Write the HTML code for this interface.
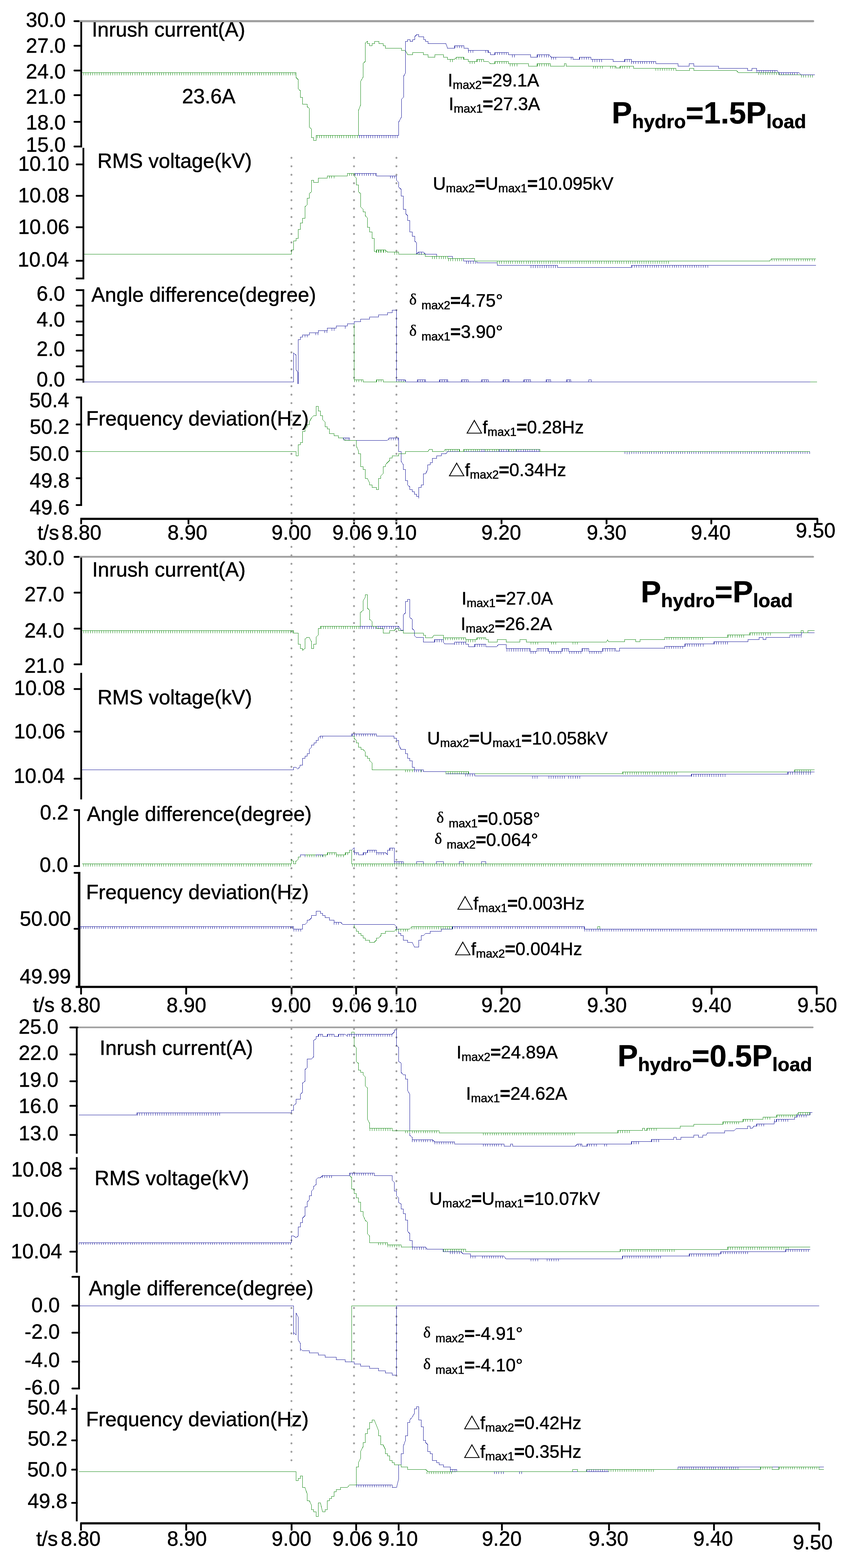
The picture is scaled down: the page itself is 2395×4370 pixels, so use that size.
<!DOCTYPE html>
<html><head><meta charset="utf-8"><title>Inrush current comparison</title>
<style>html,body{margin:0;padding:0;background:#fff;}svg{display:block;}</style></head>
<body>
<svg xmlns="http://www.w3.org/2000/svg" width="2395" height="4370" viewBox="0 0 2395 4370">
<rect width="2395" height="4370" fill="#fff"/>
<g font-family="Liberation Sans, Arial, sans-serif" fill="#000" stroke="#000" stroke-width="0.7">
<text x='72.3' y='75.1' font-size='57'>30.0</text>
<text x='72.3' y='147.2' font-size='57'>27.0</text>
<text x='72.3' y='219.0' font-size='57'>24.0</text>
<text x='72.3' y='289.0' font-size='57'>21.0</text>
<text x='72.3' y='360.8' font-size='57'>18.0</text>
<text x='72.3' y='422.9' font-size='57'>15.0</text>
<text x='50.5' y='476.0' font-size='57'>10.10</text>
<text x='50.5' y='564.2' font-size='57'>10.08</text>
<text x='50.5' y='652.2' font-size='57'>10.06</text>
<text x='49.5' y='743.0' font-size='57'>10.04</text>
<text x='102.0' y='838.2' font-size='57'>6.0</text>
<text x='102.0' y='910.0' font-size='57'>4.0</text>
<text x='102.0' y='992.2' font-size='57'>2.0</text>
<text x='102.0' y='1077.1' font-size='57'>0.0</text>
<text x='81.8' y='1135.2' font-size='57'>50.4</text>
<text x='82.8' y='1209.3' font-size='57'>50.2</text>
<text x='81.8' y='1284.3' font-size='57'>50.0</text>
<text x='82.8' y='1359.3' font-size='57'>49.8</text>
<text x='82.8' y='1434.2' font-size='57'>49.6</text>
<text x='104.5' y='1503.5' font-size='57'>t/s</text>
<text x='171.8' y='1504.0' font-size='57'>8.80</text>
<text x='466.9' y='1504.0' font-size='57'>8.90</text>
<text x='757.0' y='1504.0' font-size='57'>9.00</text>
<text x='926.5' y='1504.0' font-size='57'>9.06</text>
<text x='1051.1' y='1504.0' font-size='57'>9.10</text>
<text x='1342.0' y='1504.0' font-size='57'>9.20</text>
<text x='1635.7' y='1504.0' font-size='57'>9.30</text>
<text x='1926.2' y='1504.0' font-size='57'>9.40</text>
<text x='2218.4' y='1498.3' font-size='57'>9.50</text>
<text x='256.0' y='101.5' font-size='57'>Inrush current(A)</text>
<text x='507.5' y='288.0' font-size='57'>23.6A</text>
<text x='1248.6' y='241.2' font-size='50'>I<tspan font-size='33' dy='7'>max2</tspan><tspan dy='-7'><tspan font-weight='bold'>=</tspan>29.1A</tspan></text>
<text x='1251.2' y='307.2' font-size='50'>I<tspan font-size='33' dy='7'>max1</tspan><tspan dy='-7'><tspan font-weight='bold'>=</tspan>27.3A</tspan></text>
<text x='1705.6' y='344.1' font-size='85' font-weight='bold'>P<tspan font-size='54' dy='13'>hydro</tspan><tspan dy='-13'>=1.5P</tspan><tspan font-size='54' dy='13'>load</tspan></text>
<text x='271.5' y='467.7' font-size='57'>RMS voltage(kV)</text>
<text x='1207.1' y='529.0' font-size='50'>U<tspan font-size='33' dy='7'>max2</tspan><tspan dy='-7'><tspan font-weight='bold'>=</tspan>U</tspan><tspan font-size='33' dy='7'>max1</tspan><tspan dy='-7'><tspan font-weight='bold'>=</tspan>10.095kV</tspan></text>
<text x='254.8' y='841.3' font-size='57'>Angle difference(degree)</text>
<text x='1141.0' y='855.4' font-size='50'><tspan font-family='Liberation Serif' font-size='44' dy='-6'>δ</tspan><tspan font-size='33' dy='13' dx='4'> max2</tspan><tspan dy='-7'><tspan font-weight='bold'>=</tspan>4.75°</tspan></text>
<text x='1141.0' y='942.0' font-size='50'><tspan font-family='Liberation Serif' font-size='44' dy='-6'>δ</tspan><tspan font-size='33' dy='13' dx='4'> max1</tspan><tspan dy='-7'><tspan font-weight='bold'>=</tspan>3.90°</tspan></text>
<text x='240.0' y='1185.5' font-size='57'>Frequency deviation(Hz)</text>
<text x='1299.4' y='1207.8' font-size='50'><tspan font-family='Noto Sans CJK SC' font-size='46'>△</tspan>f<tspan font-size='33' dy='7'>max1</tspan><tspan dy='-7'><tspan font-weight='bold'>=</tspan>0.28Hz</tspan></text>
<text x='1250.2' y='1327.3' font-size='50'><tspan font-family='Noto Sans CJK SC' font-size='46'>△</tspan>f<tspan font-size='33' dy='7'>max2</tspan><tspan dy='-7'><tspan font-weight='bold'>=</tspan>0.34Hz</tspan></text>
<text x='68.2' y='1574.6' font-size='57'>30.0</text>
<text x='68.2' y='1676.2' font-size='57'>27.0</text>
<text x='68.2' y='1777.4' font-size='57'>24.0</text>
<text x='68.2' y='1875.3' font-size='57'>21.0</text>
<text x='39.0' y='1937.2' font-size='57'>10.08</text>
<text x='39.0' y='2058.0' font-size='57'>10.06</text>
<text x='38.0' y='2182.1' font-size='57'>10.04</text>
<text x='111.4' y='2284.2' font-size='57'>0.2</text>
<text x='110.4' y='2430.4' font-size='57'>0.0</text>
<text x='55.0' y='2580.4' font-size='57'>50.00</text>
<text x='55.0' y='2741.0' font-size='57'>49.99</text>
<text x='92.0' y='2819.6' font-size='57'>t/s</text>
<text x='169.0' y='2820.9' font-size='57'>8.80</text>
<text x='464.2' y='2820.9' font-size='57'>8.90</text>
<text x='756.0' y='2820.9' font-size='57'>9.00</text>
<text x='925.4' y='2820.9' font-size='57'>9.06</text>
<text x='1051.6' y='2820.9' font-size='57'>9.10</text>
<text x='1342.1' y='2820.9' font-size='57'>9.20</text>
<text x='1636.8' y='2820.9' font-size='57'>9.30</text>
<text x='1928.4' y='2820.9' font-size='57'>9.40</text>
<text x='2223.0' y='2820.9' font-size='57'>9.50</text>
<text x='257.0' y='1607.1' font-size='57'>Inrush current(A)</text>
<text x='1287.1' y='1684.7' font-size='50'>I<tspan font-size='33' dy='7'>max1</tspan><tspan dy='-7'><tspan font-weight='bold'>=</tspan>27.0A</tspan></text>
<text x='1284.6' y='1755.7' font-size='50'>I<tspan font-size='33' dy='7'>max2</tspan><tspan dy='-7'><tspan font-weight='bold'>=</tspan>26.2A</tspan></text>
<text x='1786.4' y='1678.7' font-size='85' font-weight='bold'>P<tspan font-size='54' dy='13'>hydro</tspan><tspan dy='-13'>=P</tspan><tspan font-size='54' dy='13'>load</tspan></text>
<text x='271.9' y='1963.1' font-size='57'>RMS voltage(kV)</text>
<text x='1191.0' y='2075.1' font-size='50'>U<tspan font-size='33' dy='7'>max2</tspan><tspan dy='-7'><tspan font-weight='bold'>=</tspan>U</tspan><tspan font-size='33' dy='7'>max1</tspan><tspan dy='-7'><tspan font-weight='bold'>=</tspan>10.058kV</tspan></text>
<text x='242.5' y='2288.2' font-size='57'>Angle difference(degree)</text>
<text x='1217.0' y='2298.7' font-size='50'><tspan font-family='Liberation Serif' font-size='44' dy='-6'>δ</tspan><tspan font-size='33' dy='13' dx='4'> max1</tspan><tspan dy='-7'><tspan font-weight='bold'>=</tspan>0.058°</tspan></text>
<text x='1211.6' y='2357.7' font-size='50'><tspan font-family='Liberation Serif' font-size='44' dy='-6'>δ</tspan><tspan font-size='33' dy='13' dx='4'> max2</tspan><tspan dy='-7'><tspan font-weight='bold'>=</tspan>0.064°</tspan></text>
<text x='240.0' y='2506.4' font-size='57'>Frequency deviation(Hz)</text>
<text x='1273.8' y='2535.4' font-size='50'><tspan font-family='Noto Sans CJK SC' font-size='46'>△</tspan>f<tspan font-size='33' dy='7'>max1</tspan><tspan dy='-7'><tspan font-weight='bold'>=</tspan>0.003Hz</tspan></text>
<text x='1267.2' y='2661.5' font-size='50'><tspan font-family='Noto Sans CJK SC' font-size='46'>△</tspan>f<tspan font-size='33' dy='7'>max2</tspan><tspan dy='-7'><tspan font-weight='bold'>=</tspan>0.004Hz</tspan></text>
<text x='52.0' y='2881.3' font-size='57'>25.0</text>
<text x='52.0' y='2954.4' font-size='57'>22.0</text>
<text x='52.0' y='3029.2' font-size='57'>19.0</text>
<text x='52.0' y='3102.3' font-size='57'>16.0</text>
<text x='52.0' y='3178.2' font-size='57'>13.0</text>
<text x='31.3' y='3279.3' font-size='57'>10.08</text>
<text x='31.3' y='3391.0' font-size='57'>10.06</text>
<text x='30.3' y='3506.6' font-size='57'>10.04</text>
<text x='87.5' y='3657.3' font-size='57'>0.0</text>
<text x='68.5' y='3731.1' font-size='57'>-2.0</text>
<text x='68.5' y='3810.3' font-size='57'>-4.0</text>
<text x='68.5' y='3885.5' font-size='57'>-6.0</text>
<text x='75.9' y='3941.6' font-size='57'>50.4</text>
<text x='76.9' y='4029.4' font-size='57'>50.2</text>
<text x='75.9' y='4115.4' font-size='57'>50.0</text>
<text x='76.9' y='4203.0' font-size='57'>49.8</text>
<text x='101.0' y='4307.5' font-size='57'>t/s</text>
<text x='169.4' y='4308.2' font-size='57'>8.80</text>
<text x='465.8' y='4308.2' font-size='57'>8.90</text>
<text x='757.2' y='4308.2' font-size='57'>9.00</text>
<text x='927.0' y='4308.2' font-size='57'>9.06</text>
<text x='1054.3' y='4308.2' font-size='57'>9.10</text>
<text x='1343.4' y='4308.2' font-size='57'>9.20</text>
<text x='1641.0' y='4308.2' font-size='57'>9.30</text>
<text x='1932.8' y='4308.2' font-size='57'>9.40</text>
<text x='2210.4' y='4317.6' font-size='57'>9.50</text>
<text x='277.8' y='2939.7' font-size='57'>Inrush current(A)</text>
<text x='1272.8' y='2950.4' font-size='50'>I<tspan font-size='33' dy='7'>max2</tspan><tspan dy='-7'><tspan font-weight='bold'>=</tspan>24.89A</tspan></text>
<text x='1299.2' y='3064.8' font-size='50'>I<tspan font-size='33' dy='7'>max1</tspan><tspan dy='-7'><tspan font-weight='bold'>=</tspan>24.62A</tspan></text>
<text x='1722.1' y='2972.0' font-size='85' font-weight='bold'>P<tspan font-size='54' dy='13'>hydro</tspan><tspan dy='-13'>=0.5P</tspan><tspan font-size='54' dy='13'>load</tspan></text>
<text x='263.6' y='3302.8' font-size='57'>RMS voltage(kV)</text>
<text x='1197.1' y='3357.5' font-size='50'>U<tspan font-size='33' dy='7'>max2</tspan><tspan dy='-7'><tspan font-weight='bold'>=</tspan>U</tspan><tspan font-size='33' dy='7'>max1</tspan><tspan dy='-7'><tspan font-weight='bold'>=</tspan>10.07kV</tspan></text>
<text x='247.7' y='3610.2' font-size='57'>Angle difference(degree)</text>
<text x='1180.1' y='3734.3' font-size='50'><tspan font-family='Liberation Serif' font-size='44' dy='-6'>δ</tspan><tspan font-size='33' dy='13' dx='4'> max2</tspan><tspan dy='-7'><tspan font-weight='bold'>=</tspan>-4.91°</tspan></text>
<text x='1180.1' y='3822.2' font-size='50'><tspan font-family='Liberation Serif' font-size='44' dy='-6'>δ</tspan><tspan font-size='33' dy='13' dx='4'> max1</tspan><tspan dy='-7'><tspan font-weight='bold'>=</tspan>-4.10°</tspan></text>
<text x='239.7' y='3975.2' font-size='57'>Frequency deviation(Hz)</text>
<text x='1292.8' y='3982.7' font-size='50'><tspan font-family='Noto Sans CJK SC' font-size='46'>△</tspan>f<tspan font-size='33' dy='7'>max2</tspan><tspan dy='-7'><tspan font-weight='bold'>=</tspan>0.42Hz</tspan></text>
<text x='1292.8' y='4063.4' font-size='50'><tspan font-family='Noto Sans CJK SC' font-size='46'>△</tspan>f<tspan font-size='33' dy='7'>max1</tspan><tspan dy='-7'><tspan font-weight='bold'>=</tspan>0.35Hz</tspan></text>
</g>
<g>
<line x1='218' y1='59' x2='2267' y2='59' stroke='#a0a0a0' stroke-width='6' stroke-linecap='round'/>
<line x1='218' y1='1551.7' x2='2267' y2='1551.7' stroke='#a0a0a0' stroke-width='5' stroke-linecap='round'/>
<line x1='218' y1='2863.2' x2='2266' y2='2863.2' stroke='#a0a0a0' stroke-width='4.5' stroke-linecap='round'/>
<line x1='226.5' y1='61' x2='226.5' y2='410.5' stroke='#000' stroke-width='5'/>
<line x1='207.5' y1='127.6' x2='229.0' y2='127.6' stroke='#000' stroke-width='5'/><circle cx='207.5' cy='127.6' r='2.5'/>
<line x1='207.5' y1='196.6' x2='229.0' y2='196.6' stroke='#000' stroke-width='5'/><circle cx='207.5' cy='196.6' r='2.5'/>
<line x1='207.5' y1='265.2' x2='229.0' y2='265.2' stroke='#000' stroke-width='5'/><circle cx='207.5' cy='265.2' r='2.5'/>
<line x1='207.5' y1='339.6' x2='229.0' y2='339.6' stroke='#000' stroke-width='5'/><circle cx='207.5' cy='339.6' r='2.5'/>
<line x1='207.5' y1='408.3' x2='229.0' y2='408.3' stroke='#000' stroke-width='5'/><circle cx='207.5' cy='408.3' r='2.5'/>
<line x1='207.5' y1='59' x2='219' y2='59' stroke='#000' stroke-width='5' stroke-linecap='round'/>
<line x1='232.5' y1='412' x2='232.5' y2='777' stroke='#000' stroke-width='5'/>
<line x1='213.5' y1='458.2' x2='235.0' y2='458.2' stroke='#000' stroke-width='5'/><circle cx='213.5' cy='458.2' r='2.5'/>
<line x1='213.5' y1='545.8' x2='235.0' y2='545.8' stroke='#000' stroke-width='5'/><circle cx='213.5' cy='545.8' r='2.5'/>
<line x1='213.5' y1='633.3' x2='235.0' y2='633.3' stroke='#000' stroke-width='5'/><circle cx='213.5' cy='633.3' r='2.5'/>
<line x1='213.5' y1='726.8' x2='235.0' y2='726.8' stroke='#000' stroke-width='5'/><circle cx='213.5' cy='726.8' r='2.5'/>
<line x1='213.5' y1='776.1' x2='235.0' y2='776.1' stroke='#000' stroke-width='5'/><circle cx='213.5' cy='776.1' r='2.5'/>
<line x1='232.5' y1='806.3' x2='232.5' y2='1066.4' stroke='#000' stroke-width='5'/>
<line x1='213.5' y1='808.6' x2='235.0' y2='808.6' stroke='#000' stroke-width='5'/><circle cx='213.5' cy='808.6' r='2.5'/>
<line x1='213.5' y1='851.7' x2='235.0' y2='851.7' stroke='#000' stroke-width='5'/><circle cx='213.5' cy='851.7' r='2.5'/>
<line x1='213.5' y1='896.1' x2='235.0' y2='896.1' stroke='#000' stroke-width='5'/><circle cx='213.5' cy='896.1' r='2.5'/>
<line x1='213.5' y1='933.8' x2='235.0' y2='933.8' stroke='#000' stroke-width='5'/><circle cx='213.5' cy='933.8' r='2.5'/>
<line x1='213.5' y1='977.2' x2='235.0' y2='977.2' stroke='#000' stroke-width='5'/><circle cx='213.5' cy='977.2' r='2.5'/>
<line x1='213.5' y1='1021' x2='235.0' y2='1021' stroke='#000' stroke-width='5'/><circle cx='213.5' cy='1021' r='2.5'/>
<line x1='213.5' y1='1058' x2='235.0' y2='1058' stroke='#000' stroke-width='5'/><circle cx='213.5' cy='1058' r='2.5'/>
<line x1='226.3' y1='1105.6' x2='226.3' y2='1409.7' stroke='#000' stroke-width='5'/>
<line x1='213.5' y1='1107.7' x2='228.8' y2='1107.7' stroke='#000' stroke-width='5'/><circle cx='213.5' cy='1107.7' r='2.5'/>
<line x1='213.5' y1='1183' x2='228.8' y2='1183' stroke='#000' stroke-width='5'/><circle cx='213.5' cy='1183' r='2.5'/>
<line x1='213.5' y1='1257.7' x2='228.8' y2='1257.7' stroke='#000' stroke-width='5'/><circle cx='213.5' cy='1257.7' r='2.5'/>
<line x1='213.5' y1='1332.8' x2='228.8' y2='1332.8' stroke='#000' stroke-width='5'/><circle cx='213.5' cy='1332.8' r='2.5'/>
<line x1='213.5' y1='1407.6' x2='228.8' y2='1407.6' stroke='#000' stroke-width='5'/><circle cx='213.5' cy='1407.6' r='2.5'/>
<line x1='224' y1='1446' x2='2280' y2='1446' stroke='#000' stroke-width='5.9'/>
<line x1='226.3' y1='1446' x2='226.3' y2='1459' stroke='#000' stroke-width='5' stroke-linecap='round'/>
<line x1='525.5' y1='1446' x2='525.5' y2='1459' stroke='#000' stroke-width='5' stroke-linecap='round'/>
<line x1='813' y1='1446' x2='813' y2='1459' stroke='#000' stroke-width='5' stroke-linecap='round'/>
<line x1='987.1' y1='1446' x2='987.1' y2='1459' stroke='#000' stroke-width='5' stroke-linecap='round'/>
<line x1='1105.1' y1='1446' x2='1105.1' y2='1459' stroke='#000' stroke-width='5' stroke-linecap='round'/>
<line x1='1398.3' y1='1446' x2='1398.3' y2='1459' stroke='#000' stroke-width='5' stroke-linecap='round'/>
<line x1='1691.1' y1='1446' x2='1691.1' y2='1459' stroke='#000' stroke-width='5' stroke-linecap='round'/>
<line x1='1983.2' y1='1446' x2='1983.2' y2='1459' stroke='#000' stroke-width='5' stroke-linecap='round'/>
<line x1='2279' y1='1446' x2='2279' y2='1459' stroke='#000' stroke-width='5' stroke-linecap='round'/>
<line x1='226.4' y1='1554' x2='226.4' y2='1854' stroke='#000' stroke-width='5'/>
<line x1='207.8' y1='1651.7' x2='228.9' y2='1651.7' stroke='#000' stroke-width='5'/><circle cx='207.8' cy='1651.7' r='2.5'/>
<line x1='207.8' y1='1752' x2='228.9' y2='1752' stroke='#000' stroke-width='5'/><circle cx='207.8' cy='1752' r='2.5'/>
<line x1='207.8' y1='1851.5' x2='228.9' y2='1851.5' stroke='#000' stroke-width='5'/><circle cx='207.8' cy='1851.5' r='2.5'/>
<line x1='207.8' y1='1552' x2='219' y2='1552' stroke='#000' stroke-width='5' stroke-linecap='round'/>
<line x1='226.4' y1='1875.3' x2='226.4' y2='2228' stroke='#000' stroke-width='5'/>
<line x1='207.8' y1='1920.3' x2='228.9' y2='1920.3' stroke='#000' stroke-width='5'/><circle cx='207.8' cy='1920.3' r='2.5'/>
<line x1='207.8' y1='2039' x2='228.9' y2='2039' stroke='#000' stroke-width='5'/><circle cx='207.8' cy='2039' r='2.5'/>
<line x1='207.8' y1='2170.2' x2='228.9' y2='2170.2' stroke='#000' stroke-width='5'/><circle cx='207.8' cy='2170.2' r='2.5'/>
<line x1='220.4' y1='2255.7' x2='220.4' y2='2412' stroke='#000' stroke-width='5'/>
<line x1='207.8' y1='2257.7' x2='222.9' y2='2257.7' stroke='#000' stroke-width='5'/><circle cx='207.8' cy='2257.7' r='2.5'/>
<line x1='207.8' y1='2413.8' x2='222.9' y2='2413.8' stroke='#000' stroke-width='5'/><circle cx='207.8' cy='2413.8' r='2.5'/>
<line x1='220.7' y1='2430' x2='220.7' y2='2751' stroke='#000' stroke-width='6.7'/>
<line x1='207.8' y1='2432.6' x2='224.04999999999998' y2='2432.6' stroke='#000' stroke-width='5'/><circle cx='207.8' cy='2432.6' r='2.5'/>
<line x1='207.8' y1='2588.6' x2='224.04999999999998' y2='2588.6' stroke='#000' stroke-width='5'/><circle cx='207.8' cy='2588.6' r='2.5'/>
<line x1='211' y1='2750.5' x2='2277' y2='2750.5' stroke='#000' stroke-width='5.9'/>
<line x1='226' y1='2750.5' x2='226' y2='2769.5' stroke='#000' stroke-width='5' stroke-linecap='round'/>
<line x1='519.1' y1='2750.5' x2='519.1' y2='2769.5' stroke='#000' stroke-width='5' stroke-linecap='round'/>
<line x1='813' y1='2750.5' x2='813' y2='2769.5' stroke='#000' stroke-width='5' stroke-linecap='round'/>
<line x1='992.7' y1='2750.5' x2='992.7' y2='2769.5' stroke='#000' stroke-width='5' stroke-linecap='round'/>
<line x1='1105.4' y1='2750.5' x2='1105.4' y2='2769.5' stroke='#000' stroke-width='5' stroke-linecap='round'/>
<line x1='1398.5' y1='2750.5' x2='1398.5' y2='2769.5' stroke='#000' stroke-width='5' stroke-linecap='round'/>
<line x1='1691.6' y1='2750.5' x2='1691.6' y2='2769.5' stroke='#000' stroke-width='5' stroke-linecap='round'/>
<line x1='1984' y1='2750.5' x2='1984' y2='2769.5' stroke='#000' stroke-width='5' stroke-linecap='round'/>
<line x1='2277.1' y1='2750.5' x2='2277.1' y2='2769.5' stroke='#000' stroke-width='5' stroke-linecap='round'/>
<line x1='214' y1='2864' x2='214' y2='3215.3' stroke='#000' stroke-width='5'/>
<line x1='196' y1='2938.8' x2='216.5' y2='2938.8' stroke='#000' stroke-width='5'/><circle cx='196' cy='2938.8' r='2.5'/>
<line x1='196' y1='3013.5' x2='216.5' y2='3013.5' stroke='#000' stroke-width='5'/><circle cx='196' cy='3013.5' r='2.5'/>
<line x1='196' y1='3081.9' x2='216.5' y2='3081.9' stroke='#000' stroke-width='5'/><circle cx='196' cy='3081.9' r='2.5'/>
<line x1='196' y1='3163.1' x2='216.5' y2='3163.1' stroke='#000' stroke-width='5'/><circle cx='196' cy='3163.1' r='2.5'/>
<line x1='196' y1='2863.4' x2='216' y2='2863.4' stroke='#000' stroke-width='5' stroke-linecap='round'/>
<line x1='214' y1='3224.7' x2='214' y2='3547' stroke='#000' stroke-width='5'/>
<line x1='196' y1='3256.9' x2='216.5' y2='3256.9' stroke='#000' stroke-width='5'/><circle cx='196' cy='3256.9' r='2.5'/>
<line x1='196' y1='3375.8' x2='216.5' y2='3375.8' stroke='#000' stroke-width='5'/><circle cx='196' cy='3375.8' r='2.5'/>
<line x1='196' y1='3488.4' x2='216.5' y2='3488.4' stroke='#000' stroke-width='5'/><circle cx='196' cy='3488.4' r='2.5'/>
<line x1='220.3' y1='3556.1' x2='220.3' y2='3871.5' stroke='#000' stroke-width='5'/>
<line x1='201.8' y1='3558.4' x2='222.8' y2='3558.4' stroke='#000' stroke-width='5'/><circle cx='201.8' cy='3558.4' r='2.5'/>
<line x1='201.8' y1='3638.9' x2='222.8' y2='3638.9' stroke='#000' stroke-width='5'/><circle cx='201.8' cy='3638.9' r='2.5'/>
<line x1='201.8' y1='3714.2' x2='222.8' y2='3714.2' stroke='#000' stroke-width='5'/><circle cx='201.8' cy='3714.2' r='2.5'/>
<line x1='201.8' y1='3795' x2='222.8' y2='3795' stroke='#000' stroke-width='5'/><circle cx='201.8' cy='3795' r='2.5'/>
<line x1='201.8' y1='3869.8' x2='222.8' y2='3869.8' stroke='#000' stroke-width='5'/><circle cx='201.8' cy='3869.8' r='2.5'/>
<line x1='214' y1='3886.8' x2='214' y2='4240' stroke='#000' stroke-width='5'/>
<line x1='201' y1='3926.7' x2='216.5' y2='3926.7' stroke='#000' stroke-width='5'/><circle cx='201' cy='3926.7' r='2.5'/>
<line x1='201' y1='4014.3' x2='216.5' y2='4014.3' stroke='#000' stroke-width='5'/><circle cx='201' cy='4014.3' r='2.5'/>
<line x1='201' y1='4095.9' x2='216.5' y2='4095.9' stroke='#000' stroke-width='5'/><circle cx='201' cy='4095.9' r='2.5'/>
<line x1='201' y1='4188.5' x2='216.5' y2='4188.5' stroke='#000' stroke-width='5'/><circle cx='201' cy='4188.5' r='2.5'/>
<line x1='224' y1='4245.5' x2='2284' y2='4245.5' stroke='#000' stroke-width='5.9'/>
<line x1='225.8' y1='4245.5' x2='225.8' y2='4263.5' stroke='#000' stroke-width='5' stroke-linecap='round'/>
<line x1='519.2' y1='4245.5' x2='519.2' y2='4263.5' stroke='#000' stroke-width='5' stroke-linecap='round'/>
<line x1='813' y1='4245.5' x2='813' y2='4263.5' stroke='#000' stroke-width='5' stroke-linecap='round'/>
<line x1='993' y1='4245.5' x2='993' y2='4263.5' stroke='#000' stroke-width='5' stroke-linecap='round'/>
<line x1='1111.5' y1='4245.5' x2='1111.5' y2='4263.5' stroke='#000' stroke-width='5' stroke-linecap='round'/>
<line x1='1399.4' y1='4245.5' x2='1399.4' y2='4263.5' stroke='#000' stroke-width='5' stroke-linecap='round'/>
<line x1='1698' y1='4245.5' x2='1698' y2='4263.5' stroke='#000' stroke-width='5' stroke-linecap='round'/>
<line x1='1990.7' y1='4245.5' x2='1990.7' y2='4263.5' stroke='#000' stroke-width='5' stroke-linecap='round'/>
<line x1='2284.1' y1='4245.5' x2='2284.1' y2='4263.5' stroke='#000' stroke-width='5' stroke-linecap='round'/>
<line x1='812.6' y1='439.75' x2='812.6' y2='4072' stroke='#a0a0a0' stroke-width='5.3' stroke-linecap='round' stroke-dasharray='0.3 23.27'/>
<line x1='987' y1='439.75' x2='987' y2='4049' stroke='#a0a0a0' stroke-width='5.3' stroke-linecap='round' stroke-dasharray='0.3 23.27'/>
<line x1='1105.3' y1='439.75' x2='1105.3' y2='4049' stroke='#a0a0a0' stroke-width='5.3' stroke-linecap='round' stroke-dasharray='0.3 23.27'/>
</g>
<g fill="none" stroke-width="1" shape-rendering="crispEdges">
<path d='M 229 202.7 H 825.7 V 216 L 831.7 222.3 V 247.7 L 837.3 252.7 V 271.7 H 843.3 V 290.7 H 856.7 V 297.3 L 862.7 302.7 V 355 L 868.7 359.3 V 383.3 H 874.7 V 391 H 881.7 V 377.7 H 999.3 V 308.3 L 1005.7 291.7 V 226.7 L 1012.3 215 V 176.7 L 1018.7 171 V 120 L 1024.7 115 V 121.7 H 1030.7 V 127.3 H 1037.3 V 121.7 H 1044 V 115.3 H 1056 V 121 H 1068.7 V 127.7 H 1074.7 V 134.3 H 1119 V 140.3 H 1130 L 1136.7 152.3 H 1150 V 146.7 H 1180 V 152.3 H 1193.3 V 159.3 H 1212 V 152.7 H 1236.7 V 159.3 H 1247.4 V 165.5 H 1267.6 L 1272.4 159.2 H 1293.4 V 165.5 H 1305.6 V 171.3 H 1329.5 V 165.5 H 1348.7 V 171.3 H 1361.5 L 1367.1 177.6 H 1379.2 V 171.3 H 1417.9 V 177.6 H 1473.9 V 184.2 H 1497.8 V 177.6 H 1534.7 V 184.2 H 1573.3 V 177.6 H 1578.9 V 184.2 H 1717 V 189.8 H 1728 V 184.2 H 1766.9 V 190.1 H 1884.4 V 196.4 H 1922.7 V 190.1 H 1934.7 V 196.4 H 2053.3 L 2058.6 202.4 H 2171.2 V 208.8 H 2271.8' stroke='#008000'/>
<path d='M 999.3 377.7 H 1111.7 V 340 L 1119 326.7 V 276.7 L 1125 271 V 213.3 L 1130.7 202.7 V 115.7 H 1136.7 V 110 H 1143.3 V 115 H 1150 V 110 H 1156 V 102.7 L 1162 96.7 H 1167.7 V 102.7 H 1181 V 110 H 1186.7 V 115.7 H 1193.3 V 121.7 H 1243.3 L 1248 134.5 H 1267.6 V 127.1 H 1293.4 V 134.5 H 1305.6 V 140 H 1361.5 V 146.3 H 1367.1 V 152.6 H 1379.2 V 146.3 H 1417.9 V 152.6 H 1479.4 V 159.2 H 1497.8 V 152.6 H 1531 L 1536.5 159.2 H 1597.3 V 165.5 H 1615.7 V 159.2 H 1647 V 165.5 H 1709.6 V 171.3 H 1741.7 V 165.5 H 1760.5 V 171.3 H 1828.8 V 177.3 H 1890.8 V 184.4 H 1921.9 V 177.3 H 1934.7 V 184.4 H 2003.4 V 190.1 H 2084.1 V 196.4 H 2096.1 V 190.1 H 2109.6 V 196.4 H 2165.9 L 2171.2 202.4 H 2227.5 L 2233.5 208.8 H 2271.8' stroke='#000090'/>
<path d='M 987.0 483.3 H 1049.1 V 490.2 H 1105.7 V 502.6 L 1111.2 508.1 V 521.1 L 1118.1 527.5 V 546.5 H 1124.8 V 583.2 H 1131.1 V 595.7 L 1136.6 601.2 V 614.5 H 1142.7 V 646.2 H 1149.1 V 658.7 H 1156 V 671.6 L 1161.5 676.6 V 708.1 L 1167 702.6 H 1180.6 L 1185.8 708.6 H 1217.5 V 714.5 H 1261.2 V 720.9 H 1292.9 V 727.6 H 1329.8 V 732.8 H 1386.1 V 739.5 H 1554.7 V 745.5 H 1760.6 V 739.3 H 2275' stroke='#000090'/>
<path d='M 235 708.1 H 812.6 V 696.5 H 818.4 V 671.6 H 825.4 V 664.7 H 831.4 V 639.3 H 837.5 V 621.4 H 843.6 V 608.1 H 850.2 V 576.3 L 856.3 570.8 V 552.3 H 862.4 V 539.6 L 868.7 534.4 V 502.6 H 874.2 V 508.1 H 887.2 V 496.5 H 912.4 V 490.2 H 968.2 V 483.3 H 987 V 490.2 L 993.6 496.5 V 515 H 999.4 V 534.4 L 1005.4 539.6 V 576.3 L 1012.3 583.2 V 590.1 H 1018.7 V 601.2 L 1024.8 608.1 V 633.5 H 1030.9 V 646.2 H 1037.2 V 664.7 H 1043.6 V 700 L 1049.1 702.6 V 696.5 H 1074.5 L 1080 702.6 H 1111.2 V 708.6 H 1185.8 V 714.5 H 1248 V 720.9 H 1323.4 V 727.6 H 2146.3 L 2151 721.3 H 2275' stroke='#008000'/>
<path d='M 987.4 902.6 V 1058.6 H 1012.7 V 1064.4 H 1049.6 V 1058.6 H 1068.6 V 1064.4 H 2277.6' stroke='#008000'/>
<path d='M 235 1064.4 H 818.4 V 983.8 L 825.6 989.8 V 1030.2 L 830.9 1038.7 V 1070.4 M 831.4 1070.4 V 946.4 H 837.4 V 939.4 H 843.5 V 933.4 H 862.7 V 927.4 H 887.5 V 921.4 H 912.3 V 914.6 H 937.4 V 908.6 H 968.2 V 902.6 H 987.4 V 896.6 H 1005.5 V 889.8 H 1030.3 V 883.8 H 1055.6 V 877.8 H 1080.6 V 871.3 H 1093.9 V 864.6 H 1105.4 V 1058.6 H 1128 L 1131 1064.2 H 2258.8' stroke='#000090'/>
<path d='M 955.5 1220.4 H 974.4 V 1227.1 H 1079.9 L 1086.6 1220.4 H 1111.6 V 1258.6 H 1118.4 V 1285.5 L 1124.3 1294.9 V 1308.4 H 1130.5 V 1339.3 H 1136.4 V 1351.4 L 1142.3 1356.8 V 1364.3 H 1149 V 1370.3 H 1155.2 V 1377 H 1161.1 V 1383.2 H 1167.3 V 1389.1 V 1358.2 H 1174.6 V 1351.6 H 1180.7 V 1320.5 H 1186.6 L 1192.4 1308.5 V 1295.8 H 1199.3 V 1289.4 H 1205.7 V 1277.2 H 1217.7 V 1270.3 H 1230.4 V 1264.4 H 1243.4 L 1247.8 1258.6 H 2258' stroke='#000090'/>
<path d='M 229 1258.6 H 825.6 V 1270.2 H 831.5 V 1239.2 H 837.7 V 1233 H 843.6 V 1202.6 H 850.6 V 1195.3 L 856.5 1189.4 V 1183.2 H 862.4 V 1176.5 L 868.6 1164.4 L 874.8 1158.5 H 881.5 V 1132.9 H 887.5 V 1145.6 H 893.4 V 1158.5 H 899.6 V 1169.8 L 906.3 1176.5 V 1189.4 H 912.5 V 1195.3 H 918.4 V 1208.3 H 931.3 V 1214.2 H 943.4 V 1220.4 H 955.5 L 961.5 1227.1 H 993.2 V 1242.4 L 999.1 1255.9 V 1264.5 H 1005.3 V 1300.8 H 1012.6 V 1308.4 H 1018 V 1333.4 H 1024.2 L 1030.1 1345.5 V 1351.4 H 1037.4 V 1358.2 H 1049.5 V 1364.3 H 1055.1 V 1333.4 H 1061 V 1326.7 L 1068.3 1319.9 V 1300.8 H 1074.5 V 1295.5 L 1080.4 1289 L 1086.6 1282.8 V 1276.9 H 1093.3 V 1270.7 H 1111.6 V 1264.5 H 1130.5 V 1258.6 H 1193 L 1197 1252.4 H 1205.7 V 1258.6 H 1237.6 L 1241 1252.4 H 1281.7 V 1258.6 H 1292.4 V 1252.4 H 1505 V 1258.6 H 2258' stroke='#008000'/>
<path d='M 893.5 1745.7 H 1111.6 L 1117.8 1756.1 H 1124.4 V 1713.7 L 1130.6 1708 V 1676.3 H 1136.5 V 1670.6 H 1142.8 V 1720.7 L 1149.3 1726.4 V 1751.9 L 1155.5 1757.6 V 1771.7 L 1160.3 1776.5 H 1180.2 V 1789.6 H 1211.4 V 1782.9 H 1236 V 1789.5 L 1240 1794.5 H 1267.9 V 1789.5 H 1298.3 V 1795.7 H 1306.1 V 1802.3 H 1323.2 V 1795.7 H 1354.4 V 1802.3 H 1384.8 L 1390 1796 H 1411.3 V 1807.5 H 1478.8 V 1815.5 H 1497.9 V 1807.5 H 1529.8 V 1815.5 H 1566.1 V 1807.5 H 1585.9 V 1815.5 H 1622.2 V 1807.5 H 1641.3 V 1815.5 H 1679.6 V 1807.5 H 1716.4 V 1814.2 H 1727.9 V 1806.8 H 1853.2 V 1801.1 H 1909.5 V 1794.9 H 1990.5 V 1788.8 H 2085 V 1782.2 H 2116.2 V 1776 H 2127.3 V 1782.2 H 2135.5 V 1776 H 2202 V 1769.9 H 2234.1 V 1763.7 H 2271.1' stroke='#000090'/>
<path d='M 229 1757.6 H 818.4 V 1764.1 H 831.2 V 1795.2 H 837.4 V 1807.7 H 843.3 V 1812.8 L 850.4 1807.1 V 1781.1 L 856.1 1776.5 H 862.3 L 868.6 1788.7 V 1807.1 H 874.2 V 1795.2 H 881.6 V 1775.4 L 887.8 1768.9 V 1751.3 H 893.5 V 1745.7 H 1004.8 V 1707.4 L 1012.5 1700.9 V 1674.6 L 1018.7 1664.1 V 1657.6 H 1024.6 V 1695.2 L 1030.9 1700.9 V 1726.4 L 1037.4 1732.1 V 1745.7 H 1049.3 V 1751.3 H 1068.6 V 1764.1 H 1086.1 V 1757.6 H 1098.9 L 1105.4 1751.3 H 1111.6 V 1757.6 H 1124.4 V 1764.1 H 1180.2 V 1770.3 H 1186.7 V 1777 H 1205.6 L 1209.5 1770.4 H 1236.7 V 1777 H 1298.3 V 1782.9 H 1329.5 V 1777 H 1354.4 V 1782.9 H 1361.4 V 1789.5 H 1386.7 V 1782.9 H 1411.3 V 1789.5 H 1449 V 1782.9 H 1467.4 V 1789.5 H 1690.6 L 1694 1783.6 L 1697 1788.8 H 1741.1 V 1782.2 H 1772.7 V 1788.8 H 1784.2 V 1782.2 H 1853.2 V 1776 H 2028.7 V 1769.9 H 2090.3 V 1763.7 H 2233.3 V 1757.5 H 2239.4 V 1763.7 H 2252.6 V 1757.5 H 2271.1' stroke='#008000'/>
<path d='M 980.7 2051.3 H 987 V 2057.6 L 993.2 2063.2 V 2070.3 H 999.7 V 2082.5 H 1006 V 2088.7 H 1012.5 L 1018.1 2095.2 V 2107.4 H 1024.6 V 2113.7 H 1030.9 V 2120.2 L 1037.4 2126.4 V 2145.4 H 1180.2 V 2150.9 H 1306.1 V 2156.9 H 1735.3 V 2151.5 H 2215.8 V 2145.4 H 2271.1' stroke='#008000'/>
<path d='M 229 2145.4 H 818.4 V 2138.6 H 825.5 L 830.5 2143.5 L 836.5 2136.5 V 2132.1 H 843.3 V 2113.7 H 850.4 V 2107.4 H 856.7 V 2100.9 H 862.3 V 2088.7 L 868.6 2082.5 V 2076.3 H 875.1 V 2070.3 H 881.6 V 2063.2 H 887.3 V 2057 L 892.9 2051.3 H 980.7 V 2045.1 H 1049.3 V 2051.3 H 1098.9 V 2057.6 H 1105.4 V 2063.2 H 1111.6 V 2075.4 L 1117.8 2088.2 H 1130 V 2100.9 H 1136.5 V 2113.7 H 1142.8 V 2120.2 H 1149.3 V 2138.6 H 1155.5 V 2145.4 H 1180.2 V 2150.9 H 1243.5 V 2156.9 H 1323.6 V 2162.8 H 1927.9 V 2157.5 H 2196.4 V 2151.5 H 2271.1' stroke='#000090'/>
<path d='M 980.5 2369.3 L 987.2 2363 V 2376 H 999.6 V 2382.2 H 1012.4 V 2376 H 1024.3 V 2369.3 H 1049.1 V 2376 H 1074.7 L 1080.1 2382 V 2369.3 H 1086.8 V 2363.6 H 1099.5 V 2401.3 H 1124.7 V 2407.5 H 2265' stroke='#000090'/>
<path d='M 229 2407.5 H 812.4 V 2395.9 L 818.6 2400.8 V 2407.5 H 824.8 V 2400.8 L 831.5 2394.6 V 2388.4 H 837.5 V 2382.2 H 912.8 V 2376 H 937.6 V 2382.2 H 962.4 V 2376 H 974.8 V 2369.3 H 980.5 V 2407.5 H 2265' stroke='#008000'/>
<path d='M 987.0 2576.4 V 2582.6 L 993.2 2589.1 V 2595.3 H 999.7 V 2601.6 H 1006 V 2607.5 H 1012.5 V 2614.6 H 1018.7 V 2620.3 H 1030.9 V 2626.5 H 1043.1 L 1049.3 2620.3 V 2614.6 H 1055.5 L 1062 2607.5 V 2601.6 H 1074.8 V 2595.3 H 1099.7 L 1105.4 2589.1 H 1142.2 L 1148.4 2582.6 H 1629.3 V 2589.3 H 2278' stroke='#008000'/>
<path d='M 222 2582.3 H 818.4 V 2589.4 H 843.5 V 2576.4 H 850.3 L 856.7 2570.3 V 2564.3 H 862.3 L 868.4 2558 V 2551.4 H 881.4 V 2539.1 H 893.5 V 2545.5 H 899.6 V 2551.4 H 906.5 V 2557.5 H 918.6 V 2564.3 H 931.7 V 2570.3 H 950.1 L 955.5 2576.4 H 987 H 1099.7 L 1105.4 2582.6 V 2589.1 H 1111.6 V 2601.6 H 1117.8 V 2607.5 H 1124.4 V 2620.3 H 1136.5 V 2626.5 H 1149.3 L 1155.5 2639.2 H 1167.7 V 2620.3 H 1174.5 V 2607.5 H 1180.2 L 1186.7 2601.6 H 1199.3 V 2595.1 H 1230.3 V 2589 H 1261.1 V 2582.2 H 1629.3 V 2589.3 H 2278' stroke='#000090'/>
<path d='M 980.3 2882.3 V 2876.7 H 987.6 V 2913.8 L 993.2 2920.5 V 2958.2 L 999.1 2963.6 V 2982.4 H 1005.9 V 2988.6 H 1012.6 V 2995.4 L 1018.5 3001.3 V 3026.8 L 1024.7 3032.2 V 3119.7 L 1030.3 3130.1 V 3144.5 H 1093.6 V 3151.3 H 1224.4 V 3157.1 H 1722.6 V 3150.7 H 1791.5 V 3144.2 H 1797.2 V 3150.7 H 1803.8 V 3144.2 H 1896.9 V 3138.4 H 1934.3 V 3133 H 2015.7 V 3126 H 2071.7 V 3119 H 2127.1 V 3113 H 2165.3 V 3107.4 H 2220.7 L 2226 3100.7 H 2264.5' stroke='#008000'/>
<path d='M 220 3107 H 381.9 V 3101.7 H 812.3 V 3094.1 H 818.3 V 3081.2 L 825.6 3075.3 V 3063.2 H 837.1 V 3049.7 L 843.6 3044.3 V 3018.8 L 850.3 3013.4 V 2981.1 L 856.5 2975.7 V 2951.5 H 868.6 L 874 2945.6 V 2900.4 L 881.3 2895 V 2888.3 H 887.5 V 2882.3 H 899.6 V 2888.3 H 912.5 V 2882.3 H 931.3 V 2888.3 H 943.4 V 2882.3 H 962.3 L 968.2 2888.3 V 2882.3 H 980.3 H 1093.3 L 1099.3 2876.1 V 2870.2 H 1105.4 V 2913.8 L 1111.6 2919.2 V 2958.2 L 1118.9 2963.6 V 2989.2 L 1124.3 2995.4 H 1130.5 V 3007.5 H 1136.4 V 3039 L 1142.3 3049.7 V 3163.8 L 1149 3169.6 V 3176.3 H 1206.1 L 1211.6 3182.3 H 1267.7 V 3188.1 H 1405.1 V 3194.7 H 1423.1 V 3188.1 H 1429.7 V 3194.7 H 1604 L 1610.6 3188.1 H 1622.9 V 3194.7 H 1636.1 V 3188.1 H 1760.8 V 3181.5 H 1816.1 V 3175.8 H 1878.5 V 3169.2 H 1885.1 V 3175.8 H 1898.3 V 3169.8 H 1934.3 V 3163.5 H 1947.3 V 3169.8 H 1959.6 V 3163.5 H 1969.4 L 1971.9 3157.5 H 2020.9 V 3151.6 H 2046.5 L 2052.5 3145.3 H 2084 V 3138.2 H 2091 V 3144 H 2098 L 2102 3138.2 H 2109.6 V 3132.3 H 2158.7 V 3126 H 2164.6 V 3119 H 2215.5 V 3113 H 2221.8 V 3107.4 H 2258.2 V 3100.7 H 2264.5' stroke='#000090'/>
<path d='M 974.4 3276.3 L 980.3 3281.7 V 3313.2 H 987 V 3326.1 H 993.2 V 3338.2 H 999.1 V 3350.9 H 1005.9 V 3376.4 H 1012.6 V 3388 L 1018.5 3400.9 L 1024.7 3406.8 V 3438.6 L 1030.1 3444.5 V 3463.4 H 1080.7 V 3469.3 H 1118.4 V 3475.5 H 1186 L 1191 3481.5 H 1298.6 V 3488.2 H 1728.4 V 3482.2 H 2028.5 V 3475.7 H 2258.5' stroke='#008000'/>
<path d='M 220 3463.4 H 812.1 V 3444.5 H 818.3 L 825.6 3449.4 L 831.5 3444.5 V 3419.5 H 837.1 V 3407.4 H 843.6 V 3394.7 L 850.3 3388 V 3363.3 H 856.5 V 3350.3 L 862.4 3343.6 V 3332.3 H 868.6 V 3319.4 L 874.5 3313.2 V 3306.7 L 881.3 3301.4 V 3287.6 L 886.7 3282.2 H 893.4 L 899 3276.3 H 974.4 V 3269.1 H 1043.5 V 3276.3 H 1093.3 V 3289 L 1099.3 3295.2 V 3319.4 H 1105.4 V 3332.3 L 1111.4 3338.2 V 3350.9 L 1118.4 3356 V 3369.2 H 1124.3 V 3382.1 H 1130.5 V 3400.7 H 1136.4 V 3431.6 L 1142.3 3437.8 V 3457.4 H 1149.3 V 3475.5 H 1186.1 L 1191 3481.5 H 1235.8 V 3488.4 H 1285.1 L 1291.1 3494.4 H 1311.8 V 3500.1 H 1404.6 L 1410 3508.1 H 1735 V 3500.3 H 1921.9 V 3494.5 H 2009.3 V 3488.3 H 2190.6 V 3482.2 H 2258.5' stroke='#000090'/>
<path d='M 980.3 3795.1 V 3639.5 H 2260' stroke='#008000'/>
<path d='M 220 3639.5 H 818.4 V 3720.3 M 818.4 3713.8 L 825.4 3720.3 V 3658.9 L 831.2 3670.6 V 3733.7 L 837.5 3744.2 V 3764.5 M 837.5 3758.7 L 843.4 3764.5 H 862.3 V 3770.4 H 887.3 V 3776.4 H 906.5 V 3782.3 H 937.1 V 3789.3 H 962.1 V 3795.1 H 980.3 H 987.1 V 3801 H 1005.3 V 3807.3 H 1030.3 V 3813.8 H 1055.6 V 3820.1 H 1074.3 V 3826 H 1093.4 V 3832.3 H 1105.4 V 3639.5 H 2284' stroke='#000090'/>
<path d='M 993.2 4138.2 H 1093.1 V 4145.1 H 1105.9 L 1111.3 4122.4 V 4082.4 H 1118.4 V 4051.5 H 1124.5 V 4030.7 L 1130.2 4015.1 V 4001.3 H 1136.5 V 3964.4 H 1142.5 V 3957.5 L 1148.9 3950 L 1155 3940 V 3926.3 H 1161.6 V 3920.4 H 1167.5 V 3957.5 H 1174.4 V 3976.5 H 1180.5 V 4014.4 H 1186.4 V 4020 L 1192.8 4026.4 V 4045.5 H 1199.6 V 4051.5 H 1205.5 V 4070.3 H 1217.6 V 4076.4 H 1224.6 V 4082.4 H 1236.7 V 4088.4 H 1255.8 V 4095.5 H 1273.5 V 4101.5 H 1697.7 V 4095.3 H 1890.2 V 4088.4 H 2297' stroke='#000090'/>
<path d='M 220 4101.3 H 825.4 V 4126 H 831.5 V 4120.4 H 837.4 V 4113.3 H 843.2 V 4145.4 H 850.1 L 856.5 4163.7 V 4182.1 H 862.4 L 868 4194.3 V 4207.1 H 874.3 V 4213.5 H 881.5 V 4226.2 H 887.1 V 4188.7 H 893.5 L 899.3 4213.5 H 906.2 V 4207.1 H 912.1 V 4182.4 H 918.4 V 4176.5 H 924.6 V 4170.1 H 931.2 V 4157.4 H 937.6 V 4151.5 H 949 V 4145.4 H 968.7 L 974.5 4138.2 H 993.2 V 4088.6 H 999.8 V 4075.8 L 1005.7 4063.6 V 4044.5 L 1012 4032.5 V 4020.2 H 1018.4 V 3995.2 H 1024.8 V 3982.5 H 1030.4 V 3964.1 H 1037.5 V 3957.3 H 1043.4 L 1055.4 3987.1 V 4001.1 H 1061.7 V 4026.6 H 1068.1 L 1074.5 4039.4 V 4051.3 H 1080.9 V 4057.2 H 1086 V 4070 H 1093.1 V 4076.3 H 1099.5 V 4082.2 H 1118.3 V 4088.6 H 1136.5 V 4095.5 H 1187.1 L 1192.8 4101.5 H 1596.7 V 4095.3 H 1610.6 V 4101.2 H 1635 V 4095.3 H 2120.8 V 4088.4 H 2152.5 V 4095.3 H 2171.3 V 4088.4 H 2283.3 V 4095.3 H 2297' stroke='#008000'/>
<line x1='233' y1='206.2' x2='825' y2='206.2' stroke='#008000' stroke-width='7' stroke-dasharray='1 5.2' shape-rendering='crispEdges'/>
<line x1='884' y1='381.2' x2='999' y2='381.2' stroke='#008000' stroke-width='7' stroke-dasharray='1 5.2' shape-rendering='crispEdges'/>
<line x1='1002' y1='381.2' x2='1111' y2='381.2' stroke='#000090' stroke-width='7' stroke-dasharray='1 5.2' shape-rendering='crispEdges'/>
<line x1='1760' y1='174.8' x2='1828' y2='174.8' stroke='#000090' stroke-width='7' stroke-dasharray='1 5.2' shape-rendering='crispEdges'/>
<line x1='1828' y1='193.6' x2='1884' y2='193.6' stroke='#008000' stroke-width='7' stroke-dasharray='1 5.2' shape-rendering='crispEdges'/>
<line x1='2110' y1='199.9' x2='2165' y2='199.9' stroke='#000090' stroke-width='7' stroke-dasharray='1 5.2' shape-rendering='crispEdges'/>
<line x1='2172' y1='205.9' x2='2227' y2='205.9' stroke='#000090' stroke-width='7' stroke-dasharray='1 5.2' shape-rendering='crispEdges'/>
<line x1='2115' y1='205.9' x2='2171' y2='205.9' stroke='#008000' stroke-width='7' stroke-dasharray='1 5.2' shape-rendering='crispEdges'/>
<line x1='2234' y1='212.3' x2='2271' y2='212.3' stroke='#008000' stroke-width='7' stroke-dasharray='1 5.2' shape-rendering='crispEdges'/>
<line x1='968' y1='486.8' x2='987' y2='486.8' stroke='#008000' stroke-width='7' stroke-dasharray='1 5.2' shape-rendering='crispEdges'/>
<line x1='990' y1='486.8' x2='1049' y2='486.8' stroke='#000090' stroke-width='7' stroke-dasharray='1 5.2' shape-rendering='crispEdges'/>
<line x1='912' y1='493.7' x2='933' y2='493.7' stroke='#008000' stroke-width='7' stroke-dasharray='1 5.2' shape-rendering='crispEdges'/>
<line x1='1386' y1='731.1' x2='1866' y2='731.1' stroke='#008000' stroke-width='7' stroke-dasharray='1 5.2' shape-rendering='crispEdges'/>
<line x1='2152' y1='724.8' x2='2273' y2='724.8' stroke='#008000' stroke-width='7' stroke-dasharray='1 5.2' shape-rendering='crispEdges'/>
<line x1='1762' y1='742.8' x2='1978' y2='742.8' stroke='#000090' stroke-width='7' stroke-dasharray='1 5.2' shape-rendering='crispEdges'/>
<line x1='1480' y1='743.0' x2='1554' y2='743.0' stroke='#000090' stroke-width='7' stroke-dasharray='1 5.2' shape-rendering='crispEdges'/>
<line x1='1049' y1='700.0' x2='1075' y2='700.0' stroke='#008000' stroke-width='7' stroke-dasharray='1 5.2' shape-rendering='crispEdges'/>
<line x1='1205' y1='718.0' x2='1248' y2='718.0' stroke='#008000' stroke-width='7' stroke-dasharray='1 5.2' shape-rendering='crispEdges'/>
<line x1='1243' y1='1255.5' x2='1281' y2='1255.5' stroke='#008000' stroke-width='6.2' stroke-dasharray='1 5.2' shape-rendering='crispEdges'/>
<line x1='1294' y1='1255.5' x2='1343' y2='1255.5' stroke='#008000' stroke-width='6.2' stroke-dasharray='1 5.2' shape-rendering='crispEdges'/>
<line x1='1343' y1='1255.5' x2='1352' y2='1255.5' stroke='#000090' stroke-width='6.2' stroke-dasharray='1 5.2' shape-rendering='crispEdges'/>
<line x1='1353' y1='1255.5' x2='1392' y2='1255.5' stroke='#008000' stroke-width='6.2' stroke-dasharray='1 5.2' shape-rendering='crispEdges'/>
<line x1='1392' y1='1255.5' x2='1418' y2='1255.5' stroke='#000090' stroke-width='6.2' stroke-dasharray='1 5.2' shape-rendering='crispEdges'/>
<line x1='1419' y1='1255.5' x2='1440' y2='1255.5' stroke='#008000' stroke-width='6.2' stroke-dasharray='1 5.2' shape-rendering='crispEdges'/>
<line x1='1440' y1='1255.5' x2='1505' y2='1255.5' stroke='#000090' stroke-width='6.2' stroke-dasharray='1 5.2' shape-rendering='crispEdges'/>
<line x1='1748' y1='1262.1' x2='1755' y2='1262.1' stroke='#000090' stroke-width='7' stroke-dasharray='1 5.2' shape-rendering='crispEdges'/>
<line x1='1742' y1='1261.6' x2='2258' y2='1261.6' stroke='#000090' stroke-width='6' stroke-dasharray='1 5.2' shape-rendering='crispEdges'/>
<line x1='958' y1='1223.9' x2='974' y2='1223.9' stroke='#000090' stroke-width='7' stroke-dasharray='1 5.2' shape-rendering='crispEdges'/>
<line x1='1084' y1='1223.9' x2='1111' y2='1223.9' stroke='#000090' stroke-width='7' stroke-dasharray='1 5.2' shape-rendering='crispEdges'/>
<line x1='233' y1='1761.1' x2='818' y2='1761.1' stroke='#008000' stroke-width='7' stroke-dasharray='1 5.2' shape-rendering='crispEdges'/>
<line x1='895' y1='1749.2' x2='1004' y2='1749.2' stroke='#008000' stroke-width='7' stroke-dasharray='1 5.2' shape-rendering='crispEdges'/>
<line x1='1004' y1='1749.2' x2='1111' y2='1749.2' stroke='#000090' stroke-width='7' stroke-dasharray='1 5.2' shape-rendering='crispEdges'/>
<line x1='1853' y1='1779.5' x2='1960' y2='1779.5' stroke='#008000' stroke-width='7' stroke-dasharray='1 5.2' shape-rendering='crispEdges'/>
<line x1='2030' y1='1773.4' x2='2080' y2='1773.4' stroke='#008000' stroke-width='7' stroke-dasharray='1 5.2' shape-rendering='crispEdges'/>
<line x1='2091' y1='1767.2' x2='2150' y2='1767.2' stroke='#008000' stroke-width='7' stroke-dasharray='1 5.2' shape-rendering='crispEdges'/>
<line x1='1853' y1='1804.6' x2='1909' y2='1804.6' stroke='#000090' stroke-width='7' stroke-dasharray='1 5.2' shape-rendering='crispEdges'/>
<line x1='1910' y1='1798.4' x2='1965' y2='1798.4' stroke='#000090' stroke-width='7' stroke-dasharray='1 5.2' shape-rendering='crispEdges'/>
<line x1='1991' y1='1792.3' x2='2030' y2='1792.3' stroke='#000090' stroke-width='7' stroke-dasharray='1 5.2' shape-rendering='crispEdges'/>
<line x1='2202' y1='1773.4' x2='2234' y2='1773.4' stroke='#000090' stroke-width='7' stroke-dasharray='1 5.2' shape-rendering='crispEdges'/>
<line x1='1267' y1='1793.0' x2='1298' y2='1793.0' stroke='#000090' stroke-width='7' stroke-dasharray='1 5.2' shape-rendering='crispEdges'/>
<line x1='1236' y1='1780.5' x2='1298' y2='1780.5' stroke='#008000' stroke-width='7' stroke-dasharray='1 5.2' shape-rendering='crispEdges'/>
<line x1='982' y1='2048.6' x2='1049' y2='2048.6' stroke='#000090' stroke-width='7' stroke-dasharray='1 5.2' shape-rendering='crispEdges'/>
<line x1='893' y1='2054.8' x2='900' y2='2054.8' stroke='#000090' stroke-width='7' stroke-dasharray='1 5.2' shape-rendering='crispEdges'/>
<line x1='1130' y1='2148.9' x2='1180' y2='2148.9' stroke='#008000' stroke-width='7' stroke-dasharray='1 5.2' shape-rendering='crispEdges'/>
<line x1='1155' y1='2148.9' x2='1180' y2='2148.9' stroke='#000090' stroke-width='7' stroke-dasharray='1 5.2' shape-rendering='crispEdges'/>
<line x1='1243' y1='2154.4' x2='1306' y2='2154.4' stroke='#008000' stroke-width='7' stroke-dasharray='1 5.2' shape-rendering='crispEdges'/>
<line x1='1298' y1='2160.4' x2='1323' y2='2160.4' stroke='#000090' stroke-width='7' stroke-dasharray='1 5.2' shape-rendering='crispEdges'/>
<line x1='1737' y1='2155.0' x2='1890' y2='2155.0' stroke='#008000' stroke-width='7' stroke-dasharray='1 5.2' shape-rendering='crispEdges'/>
<line x1='1928' y1='2161.0' x2='2022' y2='2161.0' stroke='#000090' stroke-width='7' stroke-dasharray='1 5.2' shape-rendering='crispEdges'/>
<line x1='2197' y1='2155.0' x2='2265' y2='2155.0' stroke='#000090' stroke-width='7' stroke-dasharray='1 5.2' shape-rendering='crispEdges'/>
<line x1='2216' y1='2148.9' x2='2265' y2='2148.9' stroke='#008000' stroke-width='7' stroke-dasharray='1 5.2' shape-rendering='crispEdges'/>
<line x1='1485' y1='2166.3' x2='1500' y2='2166.3' stroke='#000090' stroke-width='7' stroke-dasharray='1 5.2' shape-rendering='crispEdges'/>
<line x1='1530' y1='2166.3' x2='1575' y2='2166.3' stroke='#000090' stroke-width='7' stroke-dasharray='1 5.2' shape-rendering='crispEdges'/>
<line x1='1585' y1='2166.3' x2='1618' y2='2166.3' stroke='#000090' stroke-width='7' stroke-dasharray='1 5.2' shape-rendering='crispEdges'/>
<line x1='233' y1='2411.0' x2='812' y2='2411.0' stroke='#008000' stroke-width='7' stroke-dasharray='1 5.2' shape-rendering='crispEdges'/>
<line x1='982' y1='2411.0' x2='2262' y2='2411.0' stroke='#008000' stroke-width='7' stroke-dasharray='1 5.2' shape-rendering='crispEdges'/>
<line x1='1100' y1='2404.8' x2='1124' y2='2404.8' stroke='#000090' stroke-width='7' stroke-dasharray='1 5.2' shape-rendering='crispEdges'/>
<line x1='220' y1='2585.8' x2='818' y2='2585.8' stroke='#000090' stroke-width='7' stroke-dasharray='1 5.2' shape-rendering='crispEdges'/>
<line x1='819' y1='2592.9' x2='843' y2='2592.9' stroke='#000090' stroke-width='7' stroke-dasharray='1 5.2' shape-rendering='crispEdges'/>
<line x1='931' y1='2573.8' x2='950' y2='2573.8' stroke='#000090' stroke-width='7' stroke-dasharray='1 5.2' shape-rendering='crispEdges'/>
<line x1='1148' y1='2586.1' x2='1261' y2='2586.1' stroke='#008000' stroke-width='7' stroke-dasharray='1 5.2' shape-rendering='crispEdges'/>
<line x1='1262' y1='2585.7' x2='1629' y2='2585.7' stroke='#000090' stroke-width='7' stroke-dasharray='1 5.2' shape-rendering='crispEdges'/>
<line x1='1630' y1='2592.8' x2='2276' y2='2592.8' stroke='#000090' stroke-width='7' stroke-dasharray='1 5.2' shape-rendering='crispEdges'/>
<line x1='1105' y1='2592.6' x2='1142' y2='2592.6' stroke='#008000' stroke-width='7' stroke-dasharray='1 5.2' shape-rendering='crispEdges'/>
<line x1='383' y1='3105.2' x2='619' y2='3105.2' stroke='#000090' stroke-width='7' stroke-dasharray='1 5.2' shape-rendering='crispEdges'/>
<line x1='968' y1='2885.8' x2='1093' y2='2885.8' stroke='#000090' stroke-width='7' stroke-dasharray='1 5.2' shape-rendering='crispEdges'/>
<line x1='1031' y1='3148.0' x2='1093' y2='3148.0' stroke='#008000' stroke-width='7' stroke-dasharray='1 5.2' shape-rendering='crispEdges'/>
<line x1='1130' y1='3154.8' x2='1222' y2='3154.8' stroke='#008000' stroke-width='7' stroke-dasharray='1 5.2' shape-rendering='crispEdges'/>
<line x1='1149' y1='3179.8' x2='1206' y2='3179.8' stroke='#000090' stroke-width='7' stroke-dasharray='1 5.2' shape-rendering='crispEdges'/>
<line x1='1212' y1='3185.8' x2='1267' y2='3185.8' stroke='#000090' stroke-width='7' stroke-dasharray='1 5.2' shape-rendering='crispEdges'/>
<line x1='1347' y1='3191.6' x2='1400' y2='3191.6' stroke='#000090' stroke-width='7' stroke-dasharray='1 5.2' shape-rendering='crispEdges'/>
<line x1='1612' y1='3191.6' x2='1622' y2='3191.6' stroke='#000090' stroke-width='7' stroke-dasharray='1 5.2' shape-rendering='crispEdges'/>
<line x1='1637' y1='3191.6' x2='1668' y2='3191.6' stroke='#000090' stroke-width='7' stroke-dasharray='1 5.2' shape-rendering='crispEdges'/>
<line x1='1685' y1='3191.6' x2='1693' y2='3191.6' stroke='#000090' stroke-width='7' stroke-dasharray='1 5.2' shape-rendering='crispEdges'/>
<line x1='1347' y1='3160.8' x2='1605' y2='3160.8' stroke='#008000' stroke-width='7' stroke-dasharray='1 5.2' shape-rendering='crispEdges'/>
<line x1='1723' y1='3154.2' x2='1760' y2='3154.2' stroke='#008000' stroke-width='7' stroke-dasharray='1 5.2' shape-rendering='crispEdges'/>
<line x1='1804' y1='3147.7' x2='1835' y2='3147.7' stroke='#008000' stroke-width='7' stroke-dasharray='1 5.2' shape-rendering='crispEdges'/>
<line x1='1761' y1='3185.0' x2='1783' y2='3185.0' stroke='#000090' stroke-width='7' stroke-dasharray='1 5.2' shape-rendering='crispEdges'/>
<line x1='1817' y1='3179.3' x2='1840' y2='3179.3' stroke='#000090' stroke-width='7' stroke-dasharray='1 5.2' shape-rendering='crispEdges'/>
<line x1='2016' y1='3129.5' x2='2060' y2='3129.5' stroke='#008000' stroke-width='7' stroke-dasharray='1 5.2' shape-rendering='crispEdges'/>
<line x1='2072' y1='3122.5' x2='2100' y2='3122.5' stroke='#008000' stroke-width='7' stroke-dasharray='1 5.2' shape-rendering='crispEdges'/>
<line x1='2127' y1='3116.5' x2='2150' y2='3116.5' stroke='#008000' stroke-width='7' stroke-dasharray='1 5.2' shape-rendering='crispEdges'/>
<line x1='2166' y1='3110.9' x2='2220' y2='3110.9' stroke='#008000' stroke-width='7' stroke-dasharray='1 5.2' shape-rendering='crispEdges'/>
<line x1='2226' y1='3104.2' x2='2262' y2='3104.2' stroke='#008000' stroke-width='7' stroke-dasharray='1 5.2' shape-rendering='crispEdges'/>
<line x1='2110' y1='3135.8' x2='2130' y2='3135.8' stroke='#000090' stroke-width='7' stroke-dasharray='1 5.2' shape-rendering='crispEdges'/>
<line x1='2159' y1='3122.5' x2='2200' y2='3122.5' stroke='#000090' stroke-width='7' stroke-dasharray='1 5.2' shape-rendering='crispEdges'/>
<line x1='2222' y1='3110.9' x2='2250' y2='3110.9' stroke='#000090' stroke-width='7' stroke-dasharray='1 5.2' shape-rendering='crispEdges'/>
<line x1='220' y1='3466.4' x2='812' y2='3466.4' stroke='#000090' stroke-width='6' stroke-dasharray='1 5.2' shape-rendering='crispEdges'/>
<line x1='899' y1='3279.8' x2='925' y2='3279.8' stroke='#000090' stroke-width='7' stroke-dasharray='1 5.2' shape-rendering='crispEdges'/>
<line x1='976' y1='3272.6' x2='1043' y2='3272.6' stroke='#000090' stroke-width='7' stroke-dasharray='1 5.2' shape-rendering='crispEdges'/>
<line x1='1055' y1='3466.9' x2='1080' y2='3466.9' stroke='#008000' stroke-width='7' stroke-dasharray='1 5.2' shape-rendering='crispEdges'/>
<line x1='1081' y1='3472.8' x2='1118' y2='3472.8' stroke='#008000' stroke-width='7' stroke-dasharray='1 5.2' shape-rendering='crispEdges'/>
<line x1='1150' y1='3479.0' x2='1190' y2='3479.0' stroke='#000090' stroke-width='7' stroke-dasharray='1 5.2' shape-rendering='crispEdges'/>
<line x1='1236' y1='3485.0' x2='1298' y2='3485.0' stroke='#008000' stroke-width='7' stroke-dasharray='1 5.2' shape-rendering='crispEdges'/>
<line x1='1255' y1='3491.9' x2='1285' y2='3491.9' stroke='#000090' stroke-width='7' stroke-dasharray='1 5.2' shape-rendering='crispEdges'/>
<line x1='1312' y1='3503.6' x2='1325' y2='3503.6' stroke='#000090' stroke-width='7' stroke-dasharray='1 5.2' shape-rendering='crispEdges'/>
<line x1='1345' y1='3503.6' x2='1404' y2='3503.6' stroke='#000090' stroke-width='7' stroke-dasharray='1 5.2' shape-rendering='crispEdges'/>
<line x1='1730' y1='3485.7' x2='1885' y2='3485.7' stroke='#008000' stroke-width='7' stroke-dasharray='1 5.2' shape-rendering='crispEdges'/>
<line x1='1736' y1='3503.8' x2='1842' y2='3503.8' stroke='#000090' stroke-width='7' stroke-dasharray='1 5.2' shape-rendering='crispEdges'/>
<line x1='1922' y1='3498.0' x2='2009' y2='3498.0' stroke='#000090' stroke-width='7' stroke-dasharray='1 5.2' shape-rendering='crispEdges'/>
<line x1='2010' y1='3491.8' x2='2090' y2='3491.8' stroke='#000090' stroke-width='7' stroke-dasharray='1 5.2' shape-rendering='crispEdges'/>
<line x1='2030' y1='3479.2' x2='2200' y2='3479.2' stroke='#008000' stroke-width='7' stroke-dasharray='1 5.2' shape-rendering='crispEdges'/>
<line x1='2191' y1='3485.7' x2='2258' y2='3485.7' stroke='#000090' stroke-width='7' stroke-dasharray='1 5.2' shape-rendering='crispEdges'/>
<line x1='1480' y1='3511.6' x2='1500' y2='3511.6' stroke='#000090' stroke-width='7' stroke-dasharray='1 5.2' shape-rendering='crispEdges'/>
<line x1='1525' y1='3511.6' x2='1560' y2='3511.6' stroke='#000090' stroke-width='7' stroke-dasharray='1 5.2' shape-rendering='crispEdges'/>
<line x1='1190' y1='4104.5' x2='1260' y2='4104.5' stroke='#008000' stroke-width='6' stroke-dasharray='1 5.2' shape-rendering='crispEdges'/>
<line x1='994' y1='4141.7' x2='1093' y2='4141.7' stroke='#000090' stroke-width='7' stroke-dasharray='1 5.2' shape-rendering='crispEdges'/>
<line x1='1256' y1='4099.0' x2='1273' y2='4099.0' stroke='#000090' stroke-width='7' stroke-dasharray='1 5.2' shape-rendering='crispEdges'/>
<line x1='1378' y1='4104.7' x2='1404' y2='4104.7' stroke='#000090' stroke-width='7' stroke-dasharray='1 5.2' shape-rendering='crispEdges'/>
<line x1='1448' y1='4104.7' x2='1455' y2='4104.7' stroke='#000090' stroke-width='7' stroke-dasharray='1 5.2' shape-rendering='crispEdges'/>
<line x1='1697' y1='4098.8' x2='1822' y2='4098.8' stroke='#008000' stroke-width='7' stroke-dasharray='1 5.2' shape-rendering='crispEdges'/>
<line x1='1890' y1='4091.65' x2='2059' y2='4091.65' stroke='#000090' stroke-width='6.5' stroke-dasharray='1 5.2' shape-rendering='crispEdges'/>
<line x1='2121' y1='4091.9' x2='2150' y2='4091.9' stroke='#008000' stroke-width='7' stroke-dasharray='1 5.2' shape-rendering='crispEdges'/>
<line x1='2172' y1='4091.9' x2='2280' y2='4091.9' stroke='#008000' stroke-width='7' stroke-dasharray='1 5.2' shape-rendering='crispEdges'/>
<line x1='1636' y1='4098.3' x2='1697' y2='4098.3' stroke='#000090' stroke-width='6' stroke-dasharray='1 5.2' shape-rendering='crispEdges'/>
<line x1='1413' y1='1811.5' x2='1478' y2='1811.5' stroke='#000090' stroke-width='8' stroke-dasharray='1 5.2' shape-rendering='crispEdges'/>
<line x1='1502' y1='1811.5' x2='1529' y2='1811.5' stroke='#000090' stroke-width='8' stroke-dasharray='1 5.2' shape-rendering='crispEdges'/>
<line x1='1568' y1='1811.5' x2='1585' y2='1811.5' stroke='#000090' stroke-width='8' stroke-dasharray='1 5.2' shape-rendering='crispEdges'/>
<line x1='1624' y1='1811.5' x2='1641' y2='1811.5' stroke='#000090' stroke-width='8' stroke-dasharray='1 5.2' shape-rendering='crispEdges'/>
<line x1='1681' y1='1811.5' x2='1716' y2='1811.5' stroke='#000090' stroke-width='8' stroke-dasharray='1 5.2' shape-rendering='crispEdges'/>
<line x1='1480' y1='1818.5' x2='1497' y2='1818.5' stroke='#000090' stroke-width='6' stroke-dasharray='1 5.2' shape-rendering='crispEdges'/>
<line x1='1532' y1='1818.5' x2='1566' y2='1818.5' stroke='#000090' stroke-width='6' stroke-dasharray='1 5.2' shape-rendering='crispEdges'/>
<line x1='1588' y1='1818.5' x2='1622' y2='1818.5' stroke='#000090' stroke-width='6' stroke-dasharray='1 5.2' shape-rendering='crispEdges'/>
<line x1='1644' y1='1818.5' x2='1679' y2='1818.5' stroke='#000090' stroke-width='6' stroke-dasharray='1 5.2' shape-rendering='crispEdges'/>
<line x1='1480' y1='1792.5' x2='1500' y2='1792.5' stroke='#008000' stroke-width='6' stroke-dasharray='1 5.2' shape-rendering='crispEdges'/>
<line x1='1537' y1='1792.5' x2='1556' y2='1792.5' stroke='#008000' stroke-width='6' stroke-dasharray='1 5.2' shape-rendering='crispEdges'/>
<line x1='1597' y1='1792.5' x2='1610' y2='1792.5' stroke='#008000' stroke-width='6' stroke-dasharray='1 5.2' shape-rendering='crispEdges'/>
<line x1='1299' y1='1786.4' x2='1329' y2='1786.4' stroke='#008000' stroke-width='7' stroke-dasharray='1 5.2' shape-rendering='crispEdges'/>
<line x1='1330' y1='1780.0' x2='1354' y2='1780.0' stroke='#008000' stroke-width='6' stroke-dasharray='1 5.2' shape-rendering='crispEdges'/>
<line x1='1212' y1='1786.4' x2='1236' y2='1786.4' stroke='#000090' stroke-width='7' stroke-dasharray='1 5.2' shape-rendering='crispEdges'/>
<line x1='1324' y1='1799.2' x2='1354' y2='1799.2' stroke='#000090' stroke-width='7' stroke-dasharray='1 5.2' shape-rendering='crispEdges'/>
<line x1='1268' y1='130.6' x2='1293' y2='130.6' stroke='#000090' stroke-width='7' stroke-dasharray='1 5.2' shape-rendering='crispEdges'/>
<line x1='1306' y1='143.5' x2='1325' y2='143.5' stroke='#000090' stroke-width='7' stroke-dasharray='1 5.2' shape-rendering='crispEdges'/>
<line x1='1354' y1='143.5' x2='1361' y2='143.5' stroke='#000090' stroke-width='7' stroke-dasharray='1 5.2' shape-rendering='crispEdges'/>
<line x1='1380' y1='149.8' x2='1418' y2='149.8' stroke='#000090' stroke-width='7' stroke-dasharray='1 5.2' shape-rendering='crispEdges'/>
<line x1='1428' y1='156.1' x2='1435' y2='156.1' stroke='#000090' stroke-width='7' stroke-dasharray='1 5.2' shape-rendering='crispEdges'/>
<line x1='1498' y1='156.1' x2='1531' y2='156.1' stroke='#000090' stroke-width='7' stroke-dasharray='1 5.2' shape-rendering='crispEdges'/>
<line x1='1537' y1='162.7' x2='1555' y2='162.7' stroke='#000090' stroke-width='7' stroke-dasharray='1 5.2' shape-rendering='crispEdges'/>
<line x1='1592' y1='162.7' x2='1597' y2='162.7' stroke='#000090' stroke-width='7' stroke-dasharray='1 5.2' shape-rendering='crispEdges'/>
<line x1='1616' y1='162.7' x2='1647' y2='162.7' stroke='#000090' stroke-width='7' stroke-dasharray='1 5.2' shape-rendering='crispEdges'/>
<line x1='1652' y1='169.0' x2='1680' y2='169.0' stroke='#000090' stroke-width='7' stroke-dasharray='1 5.2' shape-rendering='crispEdges'/>
<line x1='1742' y1='169.0' x2='1760' y2='169.0' stroke='#000090' stroke-width='7' stroke-dasharray='1 5.2' shape-rendering='crispEdges'/>
<line x1='1255' y1='169.0' x2='1262' y2='169.0' stroke='#008000' stroke-width='7' stroke-dasharray='1 5.2' shape-rendering='crispEdges'/>
<line x1='1273' y1='162.7' x2='1293' y2='162.7' stroke='#008000' stroke-width='7' stroke-dasharray='1 5.2' shape-rendering='crispEdges'/>
<line x1='1310' y1='174.8' x2='1325' y2='174.8' stroke='#008000' stroke-width='7' stroke-dasharray='1 5.2' shape-rendering='crispEdges'/>
<line x1='1330' y1='169.0' x2='1348' y2='169.0' stroke='#008000' stroke-width='7' stroke-dasharray='1 5.2' shape-rendering='crispEdges'/>
<line x1='1380' y1='174.8' x2='1418' y2='174.8' stroke='#008000' stroke-width='7' stroke-dasharray='1 5.2' shape-rendering='crispEdges'/>
<line x1='1422' y1='181.1' x2='1443' y2='181.1' stroke='#008000' stroke-width='7' stroke-dasharray='1 5.2' shape-rendering='crispEdges'/>
<line x1='1498' y1='181.1' x2='1535' y2='181.1' stroke='#008000' stroke-width='7' stroke-dasharray='1 5.2' shape-rendering='crispEdges'/>
<line x1='1654' y1='187.7' x2='1680' y2='187.7' stroke='#008000' stroke-width='7' stroke-dasharray='1 5.2' shape-rendering='crispEdges'/>
<line x1='1702' y1='187.7' x2='1717' y2='187.7' stroke='#008000' stroke-width='7' stroke-dasharray='1 5.2' shape-rendering='crispEdges'/>
<line x1='1729' y1='187.7' x2='1760' y2='187.7' stroke='#008000' stroke-width='7' stroke-dasharray='1 5.2' shape-rendering='crispEdges'/>
<line x1='988' y1='2379.5' x2='999.6' y2='2379.5' stroke='#000090' stroke-width='7' stroke-dasharray='1 5.2' shape-rendering='crispEdges'/>
<line x1='1013' y1='2379.5' x2='1024.3' y2='2379.5' stroke='#000090' stroke-width='7' stroke-dasharray='1 5.2' shape-rendering='crispEdges'/>
<line x1='1025' y1='2372.8' x2='1049.1' y2='2372.8' stroke='#000090' stroke-width='7' stroke-dasharray='1 5.2' shape-rendering='crispEdges'/>
<line x1='1050' y1='2379.5' x2='1074.7' y2='2379.5' stroke='#000090' stroke-width='7' stroke-dasharray='1 5.2' shape-rendering='crispEdges'/>
<line x1='1087' y1='2367.1' x2='1099.5' y2='2367.1' stroke='#000090' stroke-width='7' stroke-dasharray='1 5.2' shape-rendering='crispEdges'/>
<line x1='850' y1='2385.7' x2='912' y2='2385.7' stroke='#008000' stroke-width='7' stroke-dasharray='1 5.2' shape-rendering='crispEdges'/>
<line x1='913' y1='2379.5' x2='937' y2='2379.5' stroke='#008000' stroke-width='7' stroke-dasharray='1 5.2' shape-rendering='crispEdges'/>
<line x1='963' y1='2379.5' x2='975' y2='2379.5' stroke='#008000' stroke-width='7' stroke-dasharray='1 5.2' shape-rendering='crispEdges'/>
<line x1='938' y1='2385.7' x2='962' y2='2385.7' stroke='#008000' stroke-width='7' stroke-dasharray='1 5.2' shape-rendering='crispEdges'/>
<line x1='1105.4' y1='1061.4' x2='1130.7' y2='1061.4' stroke='#000090' stroke-width='6' stroke-dasharray='1 5.2' shape-rendering='crispEdges'/>
<line x1='1164.7' y1='1061.4' x2='1186.5' y2='1061.4' stroke='#000090' stroke-width='6' stroke-dasharray='1 5.2' shape-rendering='crispEdges'/>
<line x1='1226.2' y1='1061.4' x2='1248.4' y2='1061.4' stroke='#000090' stroke-width='6' stroke-dasharray='1 5.2' shape-rendering='crispEdges'/>
<line x1='1287.6' y1='1061.4' x2='1305.1' y2='1061.4' stroke='#000090' stroke-width='6' stroke-dasharray='1 5.2' shape-rendering='crispEdges'/>
<line x1='1343.9' y1='1061.4' x2='1361.7' y2='1061.4' stroke='#000090' stroke-width='6' stroke-dasharray='1 5.2' shape-rendering='crispEdges'/>
<line x1='1403.2' y1='1061.4' x2='1419.7' y2='1061.4' stroke='#000090' stroke-width='6' stroke-dasharray='1 5.2' shape-rendering='crispEdges'/>
<line x1='1461.1' y1='1061.4' x2='1479.9' y2='1061.4' stroke='#000090' stroke-width='6' stroke-dasharray='1 5.2' shape-rendering='crispEdges'/>
<line x1='1523.9' y1='1061.4' x2='1535.7' y2='1061.4' stroke='#000090' stroke-width='6' stroke-dasharray='1 5.2' shape-rendering='crispEdges'/>
<line x1='1580.6' y1='1061.4' x2='1591.9' y2='1061.4' stroke='#000090' stroke-width='6' stroke-dasharray='1 5.2' shape-rendering='crispEdges'/>
<line x1='988' y1='1061.6' x2='1012' y2='1061.6' stroke='#008000' stroke-width='6' stroke-dasharray='1 5.2' shape-rendering='crispEdges'/>
<line x1='1050' y1='1061.6' x2='1068' y2='1061.6' stroke='#008000' stroke-width='6' stroke-dasharray='1 5.2' shape-rendering='crispEdges'/>
<line x1='1088' y1='493.7' x2='1105' y2='493.7' stroke='#000090' stroke-width='7' stroke-dasharray='1 5.2' shape-rendering='crispEdges'/>
<line x1='1050' y1='700.0' x2='1074' y2='700.0' stroke='#008000' stroke-width='7' stroke-dasharray='1 5.2' shape-rendering='crispEdges'/>
<line x1='1100' y1='706.1' x2='1111' y2='706.1' stroke='#008000' stroke-width='7' stroke-dasharray='1 5.2' shape-rendering='crispEdges'/>
<line x1='1168' y1='706.1' x2='1180' y2='706.1' stroke='#000090' stroke-width='7' stroke-dasharray='1 5.2' shape-rendering='crispEdges'/>
<line x1='1250' y1='724.4' x2='1290' y2='724.4' stroke='#008000' stroke-width='7' stroke-dasharray='1 5.2' shape-rendering='crispEdges'/>
<line x1='1300' y1='731.1' x2='1329' y2='731.1' stroke='#000090' stroke-width='7' stroke-dasharray='1 5.2' shape-rendering='crispEdges'/>
<line x1='850' y1='936.9' x2='862' y2='936.9' stroke='#000090' stroke-width='7' stroke-dasharray='1 5.2' shape-rendering='crispEdges'/>
<line x1='880' y1='930.9' x2='887' y2='930.9' stroke='#000090' stroke-width='7' stroke-dasharray='1 5.2' shape-rendering='crispEdges'/>
<line x1='905' y1='924.9' x2='912' y2='924.9' stroke='#000090' stroke-width='7' stroke-dasharray='1 5.2' shape-rendering='crispEdges'/>
<line x1='925' y1='918.1' x2='937' y2='918.1' stroke='#000090' stroke-width='7' stroke-dasharray='1 5.2' shape-rendering='crispEdges'/>
<line x1='962' y1='912.1' x2='968' y2='912.1' stroke='#000090' stroke-width='7' stroke-dasharray='1 5.2' shape-rendering='crispEdges'/>
<line x1='888' y1='2885.8' x2='899.6' y2='2885.8' stroke='#000090' stroke-width='7' stroke-dasharray='1 5.2' shape-rendering='crispEdges'/>
<line x1='913' y1='2885.8' x2='931.3' y2='2885.8' stroke='#000090' stroke-width='7' stroke-dasharray='1 5.2' shape-rendering='crispEdges'/>
<line x1='944' y1='2885.8' x2='962.3' y2='2885.8' stroke='#000090' stroke-width='7' stroke-dasharray='1 5.2' shape-rendering='crispEdges'/>
<path d='M 1163.7 1064.2 V 1058.4 H 1186.5 V 1064.2 M 1225.2 1064.2 V 1058.4 H 1248.4 V 1064.2 M 1286.6 1064.2 V 1058.4 H 1305.1 V 1064.2 M 1342.9 1064.2 V 1058.4 H 1361.7 V 1064.2 M 1402.2 1064.2 V 1058.4 H 1419.7 V 1064.2 M 1460.1 1064.2 V 1058.4 H 1479.9 V 1064.2 M 1522.9 1064.2 V 1058.4 H 1535.7 V 1064.2 M 1579.6 1064.2 V 1058.4 H 1591.9 V 1064.2 M 1641.5 1064.2 V 1058.4 H 1648.1 V 1064.2' stroke='#000090'/>
<path d='M 1161.6 2407.6 V 2401.3 H 1180.7 V 2407.6 M 1216.9 2407.6 V 2401.3 H 1236.8 V 2407.6 M 1280.6 2407.6 V 2401.3 H 1292.5 V 2407.6 M 1342.2 2407.6 V 2401.3 H 1354.1 V 2407.6' stroke='#000090'/>
<path d='M 837.5 2388.4 V 2382.2 H 850 V 2388.4' stroke='#000090'/>
<path d='M 1666 2589.3 V 2582.2 H 1672.3 V 2589.3' stroke='#008000'/>
<path d='M 881.8 2388.4 V 2382.2 H 899.2 V 2388.4' stroke='#000090'/>
</g>
</svg>
</body></html>
